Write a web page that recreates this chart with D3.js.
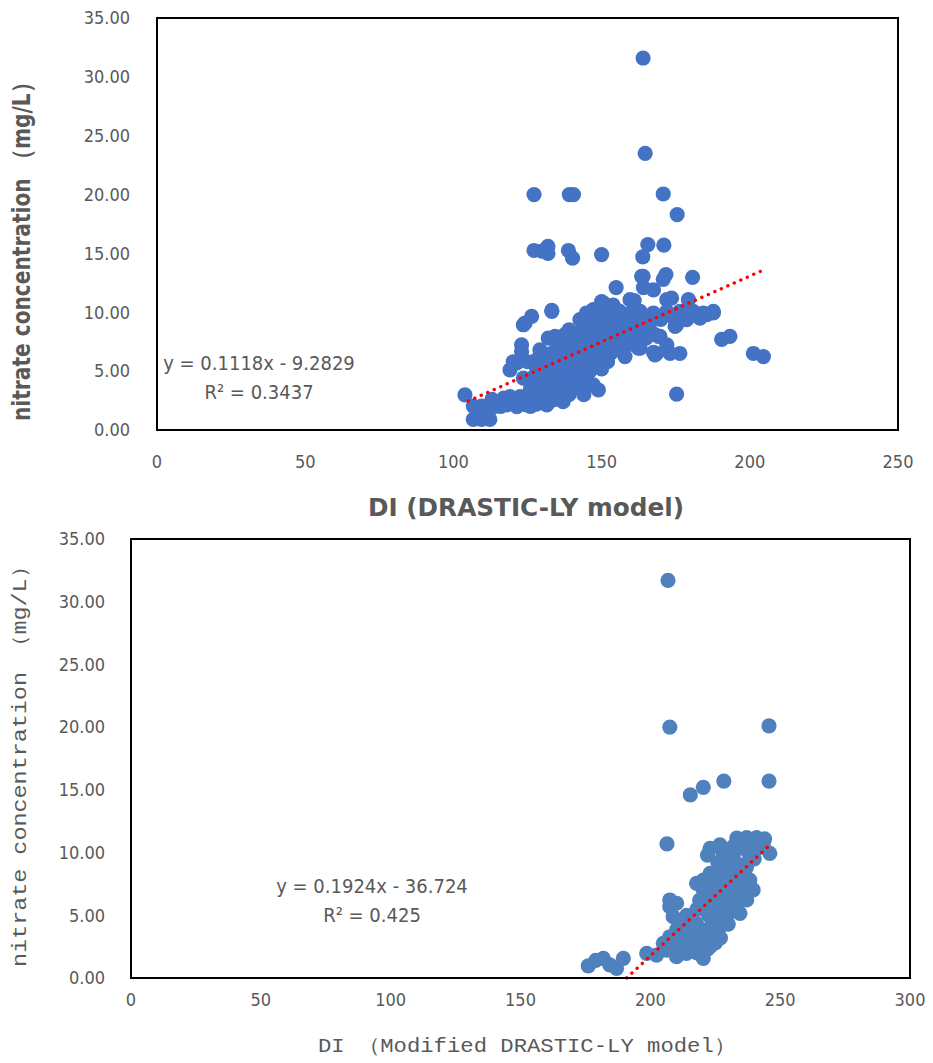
<!DOCTYPE html>
<html lang="en">

<head>
    <meta charset="UTF-8">
    <title>Nitrate vs DI</title>
    <script src="https://d3js.org/d3.v7.min.js"></script>
    <style>
        body {
            margin: 0;
            background: #fff;
        }

        .tick-label {
            font-family: "Liberation Sans Narrow", "DejaVu Sans Condensed", "Roboto", sans-serif;
            font-size: 18px;
            fill: #595959;
        }

        .eq {
            font-family: "Liberation Sans Narrow", "DejaVu Sans Condensed", "Roboto", sans-serif;
            font-size: 20px;
            fill: #595959;
        }

        .bold-title {
            font-family: "Liberation Sans Narrow", "DejaVu Sans Condensed", "Open Sans", sans-serif;
            font-weight: bold;
            font-size: 25px;
            fill: #595959;
        }

        .mono-title {
            font-family: "Liberation Mono", "DejaVu Sans Mono", monospace;
            font-size: 20px;
            fill: #595959;
        }
    </style>
</head>

<body>
    <svg id="chart" width="933" height="1063"></svg>

    <script>
        // ---- data ----
        var yTicks = [0, 5, 10, 15, 20, 25, 30, 35];
        var topXTicks = [0, 50, 100, 150, 200, 250];
        var bottomXTicks = [0, 50, 100, 150, 200, 250, 300];

        // DRASTIC-LY model
        var topDI = [
            164.0, 164.7, 127.2, 139.1, 140.5, 170.8, 175.5,
            127.2, 131.9, 131.9, 129.9, 138.8, 140.2, 150.0, 165.6, 163.9, 171.0,
            164.0, 171.7, 170.8, 180.7, 154.9, 163.5, 164.1, 167.5,
            150.0, 153.9, 159.6, 172.0, 173.6, 179.3,
            133.2, 126.4, 123.6, 124.2,
            187.7, 185.5, 183.2, 190.5, 193.3, 201.2, 204.6,
            175.3, 176.4, 173.1, 168.6, 167.5, 172.0, 162.4, 157.9, 168.0, 169.7, 174.8,
            147.2, 148.9, 123.6, 119.1, 121.4, 120.2,
            103.9,
            106.7, 109.5, 106.7, 109.5, 112.3, 112.3, 114.5, 108.0,
            119.1, 122.5, 118.0, 121.4, 124.7, 127.0, 129.2, 131.5, 133.7, 134.9, 116.0, 125.5,
            123.0, 123.0, 133.2,
            129.2, 128.1, 132.0, 134.3, 137.6,
            130.4, 132.6, 129.2, 134.9, 137.1, 139.3, 141.6, 143.8, 140.4, 138.2, 144.9,
            136.0, 138.2, 140.4, 142.7, 144.9, 142.7, 144.9, 147.2, 149.5, 150.6, 151.7,
            149.5, 147.2, 151.7, 148.3,
            163.0, 167.5, 172.0, 176.4, 180.9, 184.3, 187.7, 183.2, 178.7, 175.3,
            151.7, 156.2, 160.7, 151.7, 156.2, 160.7, 165.2, 168.6,
            169.2, 168.0, 163.0, 152.8, 149.5,
            136.0, 139.0, 142.0, 145.0, 146.0, 150.0, 153.0, 155.0, 158.0, 153.0, 148.0, 146.0, 143.0, 140.0,
            137.0, 135.0, 132.0, 131.0, 133.0, 126.0, 127.0, 128.0, 125.0, 135.0, 139.0, 141.0, 146.0, 150.0,
            152.0, 155.0, 157.0, 160.0, 162.0, 164.0, 166.0, 170.0, 160.0, 157.0, 171.0, 174.0, 178.0, 144.0,
            130.0, 128.0, 113.0, 117.0, 126.0, 137.0, 141.0, 134.0, 145.0, 147.0, 154.0, 159.0, 156.0, 139.0, 161.0,
            127.0, 131.0, 136.0, 138.0, 142.0, 145.0, 148.0, 152.0, 155.0, 158.0, 162.0, 165.0, 150.0, 153.0,
            148.0, 143.0, 137.0, 134.0, 131.0, 129.0
        ];
        var topNitrate = [
            31.6, 23.5, 20.0, 20.0, 20.0, 20.05, 18.3,
            15.25, 15.6, 15.0, 15.2, 15.25, 14.6, 14.9, 15.75, 14.7, 15.7,
            13.06, 13.2, 12.8, 12.97, 12.1, 13.06, 12.1, 11.9,
            10.9, 10.6, 11.07, 11.07, 11.2, 11.07,
            10.08, 9.65, 8.94, 9.09,
            9.94, 9.8, 9.8, 7.7, 7.95, 6.5, 6.24,
            3.04, 6.5, 6.5, 6.5, 6.6, 7.24, 6.96, 6.24, 8.1, 7.95, 8.8,
            3.83, 3.4, 4.4, 5.1, 5.7, 5.8,
            2.98,
            2.03, 2.03, 0.9, 0.9, 0.9, 1.75, 2.03, 1.4,
            2.84, 2.84, 2.13, 1.99, 2.13, 2.56, 2.84, 2.13, 2.56, 3.12, 2.0, 2.9,
            7.24, 6.67, 10.16,
            6.8, 5.96, 7.8, 7.95, 8.1,
            4.26, 3.69, 3.41, 4.54, 4.83, 5.11, 5.4, 5.68, 4.26, 3.69, 4.54,
            6.24, 6.81, 7.38, 7.95, 8.52, 9.37, 9.94, 10.22, 9.37, 10.79, 10.22,
            6.81, 6.24, 6.24, 5.4,
            10.08, 9.94, 10.08, 10.08, 10.08, 9.94, 10.08, 9.51, 9.37, 8.94,
            9.37, 9.37, 9.37, 8.52, 8.66, 8.23, 9.37, 9.51,
            7.95, 6.39, 6.96, 6.53, 6.1,
            3.2, 3.0, 3.6, 4.0, 5.0, 5.2, 6.5, 7.5, 8.0, 8.0, 7.2, 7.0, 6.5, 6.0,
            5.5, 5.2, 5.0, 6.0, 6.5, 3.5, 4.5, 5.3, 5.8, 7.0, 8.5, 8.2, 8.0, 8.0,
            7.2, 8.9, 9.8, 10.0, 9.0, 8.5, 8.8, 9.4, 7.3, 6.8, 9.7, 9.6, 9.9, 3.0,
            3.0, 2.2, 2.6, 2.7, 2.0, 2.4, 4.8, 5.9, 6.0, 9.0, 9.9, 8.8, 10.1, 7.2, 11.0,
            3.0, 3.2, 4.0, 4.5, 4.2, 5.5, 6.5, 5.8, 6.8, 7.5, 8.0, 7.8, 7.5, 9.0,
            8.5, 7.3, 7.0, 6.0, 4.5, 4.0
        ];

        // Modified DRASTIC-LY model
        var bottomDI = [
            206.8, 207.5, 245.7, 245.7, 228.3, 220.4, 215.4, 206.4,
            176.1, 181.9, 184.4, 187.0, 189.6, 179.0,
            198.6, 202.4, 207.5, 207.5, 210.1, 208.8, 210.1, 207.5, 205.0, 206.3, 210.1, 213.9, 220.4,
            213.9, 217.8, 220.4, 223.0, 217.8, 215.2, 221.7, 224.2, 225.5, 223.0, 220.4, 224.2, 228.1,
            230.7, 233.3, 234.5, 229.4, 226.8,
            217.8, 220.4, 223.0, 225.5, 228.1, 230.7, 233.3, 235.8, 238.3, 239.6, 237.1, 220.4, 225.5,
            223.0, 226.8, 230.7, 233.3, 237.1, 240.9, 243.5, 235.8, 238.3, 231.9, 229.4, 246.0,
            212.0, 216.0, 218.0, 221.0, 227.0, 232.0, 235.0, 229.0, 236.0, 222.0, 219.0, 211.0,
            226.0, 232.0, 238.0, 227.0, 224.0, 218.0,
            209.0, 212.0, 214.0, 216.0, 219.0, 222.0, 225.0, 228.0, 231.0, 234.0, 237.0, 240.0, 242.0,
            228.0, 226.0, 224.0, 221.0, 230.0, 233.0, 236.0, 213.0, 216.0, 222.0, 225.0, 240.0, 235.0, 244.0
        ];
        var bottomNitrate = [
            31.7, 20.0, 20.1, 15.7, 15.7, 15.2, 14.6, 10.7,
            0.96, 1.57, 1.04, 0.77, 1.57, 1.4,
            1.97, 1.83, 6.22, 5.69, 5.96, 4.89, 3.83, 3.29, 2.77, 2.23, 1.7, 1.97, 1.57,
            3.83, 4.36, 3.29, 2.5, 2.77, 2.5, 3.83, 4.36, 5.16, 4.89, 5.69, 6.22, 6.48,
            5.96, 6.75, 5.16, 4.89, 4.09,
            7.55, 7.81, 8.35, 8.08, 8.88, 9.15, 8.61, 8.35, 7.81, 7.02, 6.22, 7.02, 7.28,
            10.34, 10.61, 10.21, 11.16, 11.2, 11.2, 10.61, 10.34, 9.67, 9.67, 9.41, 9.94,
            3.0, 3.5, 5.5, 6.5, 7.8, 7.5, 9.0, 8.0, 7.0, 9.8, 6.2, 2.5,
            5.8, 10.5, 10.8, 3.2, 3.5, 2.0,
            3.0, 4.2, 5.0, 4.5, 3.5, 5.2, 6.8, 5.5, 7.0, 8.0, 8.8, 9.5, 10.4,
            9.9, 9.2, 7.6, 7.2, 4.3, 5.5, 6.3, 2.6, 2.2, 2.3, 2.8, 11.0, 11.0, 11.1
        ];

        // linear trend lines as printed in the chart
        var topFit = { slope: 0.1118, intercept: -9.2829, r2: "0.3437", from: 105, to: 205 };
        var bottomFit = { slope: 0.1924, intercept: -36.724, r2: "0.425", from: 190.9, to: 245.7 };

        var svg = d3.select("#chart");

        function drawPanel(opt) {
            var g = svg.append("g");

            var x = d3.scaleLinear().domain(opt.xDomain).range([opt.left, opt.right]);
            var y = d3.scaleLinear().domain([0, 35]).range([opt.bottom, opt.top]);

            // y tick labels
            g.selectAll("text.ylab")
                .data(yTicks)
                .join("text")
                .attr("class", "tick-label")
                .attr("x", opt.left - opt.yLabGap)
                .attr("y", function (d) { return y(d); })
                .attr("dy", "0.35em")
                .attr("text-anchor", "end")
                .text(function (d) { return d3.format(".2f")(d); });

            // x tick labels
            g.selectAll("text.xlab")
                .data(opt.xTicks)
                .join("text")
                .attr("class", "tick-label")
                .attr("x", function (d) { return x(d); })
                .attr("y", opt.bottom + opt.xLabGap)
                .attr("dy", "0.35em")
                .attr("text-anchor", "middle")
                .text(function (d) { return d; });

            // points
            g.append("g")
                .selectAll("circle")
                .data(opt.xs)
                .join("circle")
                .attr("cx", function (d) { return x(d); })
                .attr("cy", function (d, i) { return y(opt.ys[i]); })
                .attr("r", 7.6)
                .attr("fill", opt.color);

            // trend line
            var fit = opt.fit;
            g.append("line")
                .attr("x1", x(fit.from))
                .attr("y1", y(fit.slope * fit.from + fit.intercept))
                .attr("x2", x(fit.to))
                .attr("y2", y(fit.slope * fit.to + fit.intercept))
                .attr("stroke", "#ff0000")
                .attr("stroke-width", 3.4)
                .attr("stroke-linecap", "round")
                .attr("stroke-dasharray", "0.1,7");

            // plot frame
            g.append("rect")
                .attr("x", opt.left)
                .attr("y", opt.top)
                .attr("width", opt.right - opt.left)
                .attr("height", opt.bottom - opt.top)
                .attr("fill", "none")
                .attr("stroke", "#000")
                .attr("stroke-width", 2);

            // equation
            var sign = fit.intercept < 0 ? " - " : " + ";
            g.append("text")
                .attr("class", "eq")
                .attr("x", opt.eqX)
                .attr("y", opt.eqY)
                .attr("text-anchor", "middle")
                .text("y = " + fit.slope + "x" + sign + Math.abs(fit.intercept));
            g.append("text")
                .attr("class", "eq")
                .attr("x", opt.eqX)
                .attr("y", opt.eqY + 29)
                .attr("text-anchor", "middle")
                .text("R² = " + fit.r2);

            return g;
        }

        drawPanel({
            left: 157, right: 898, top: 18, bottom: 430,
            xDomain: [0, 250], xTicks: topXTicks,
            xs: topDI, ys: topNitrate, color: "#4472c4",
            fit: topFit, eqX: 259, eqY: 370,
            yLabGap: 27, xLabGap: 32
        });

        drawPanel({
            left: 131, right: 910, top: 539, bottom: 978,
            xDomain: [0, 300], xTicks: bottomXTicks,
            xs: bottomDI, ys: bottomNitrate, color: "#4f81bd",
            fit: bottomFit, eqX: 372, eqY: 893,
            yLabGap: 26, xLabGap: 22
        });

        // axis titles, top panel
        svg.append("text")
            .attr("class", "bold-title")
            .attr("x", 526)
            .attr("y", 516)
            .attr("text-anchor", "middle")
            .attr("textLength", 316)
            .attr("lengthAdjust", "spacingAndGlyphs")
            .text("DI (DRASTIC-LY model)");

        svg.append("text")
            .attr("class", "bold-title")
            .attr("transform", "translate(30,246) rotate(-90)")
            .attr("text-anchor", "middle")
            .attr("textLength", 350)
            .attr("lengthAdjust", "spacingAndGlyphs")
            .text("nitrate concentration （mg/L）");

        // axis titles, bottom panel
        svg.append("text")
            .attr("class", "mono-title")
            .attr("x", 318)
            .attr("y", 1052)
            .attr("textLength", 418)
            .attr("lengthAdjust", "spacingAndGlyphs")
            .text("DI （Modified DRASTIC-LY model）");

        svg.append("text")
            .attr("class", "mono-title")
            .attr("transform", "translate(26,967) rotate(-90)")
            .attr("textLength", 412)
            .attr("lengthAdjust", "spacingAndGlyphs")
            .text("nitrate concentration （mg/L）");
    </script>
</body>

</html>
